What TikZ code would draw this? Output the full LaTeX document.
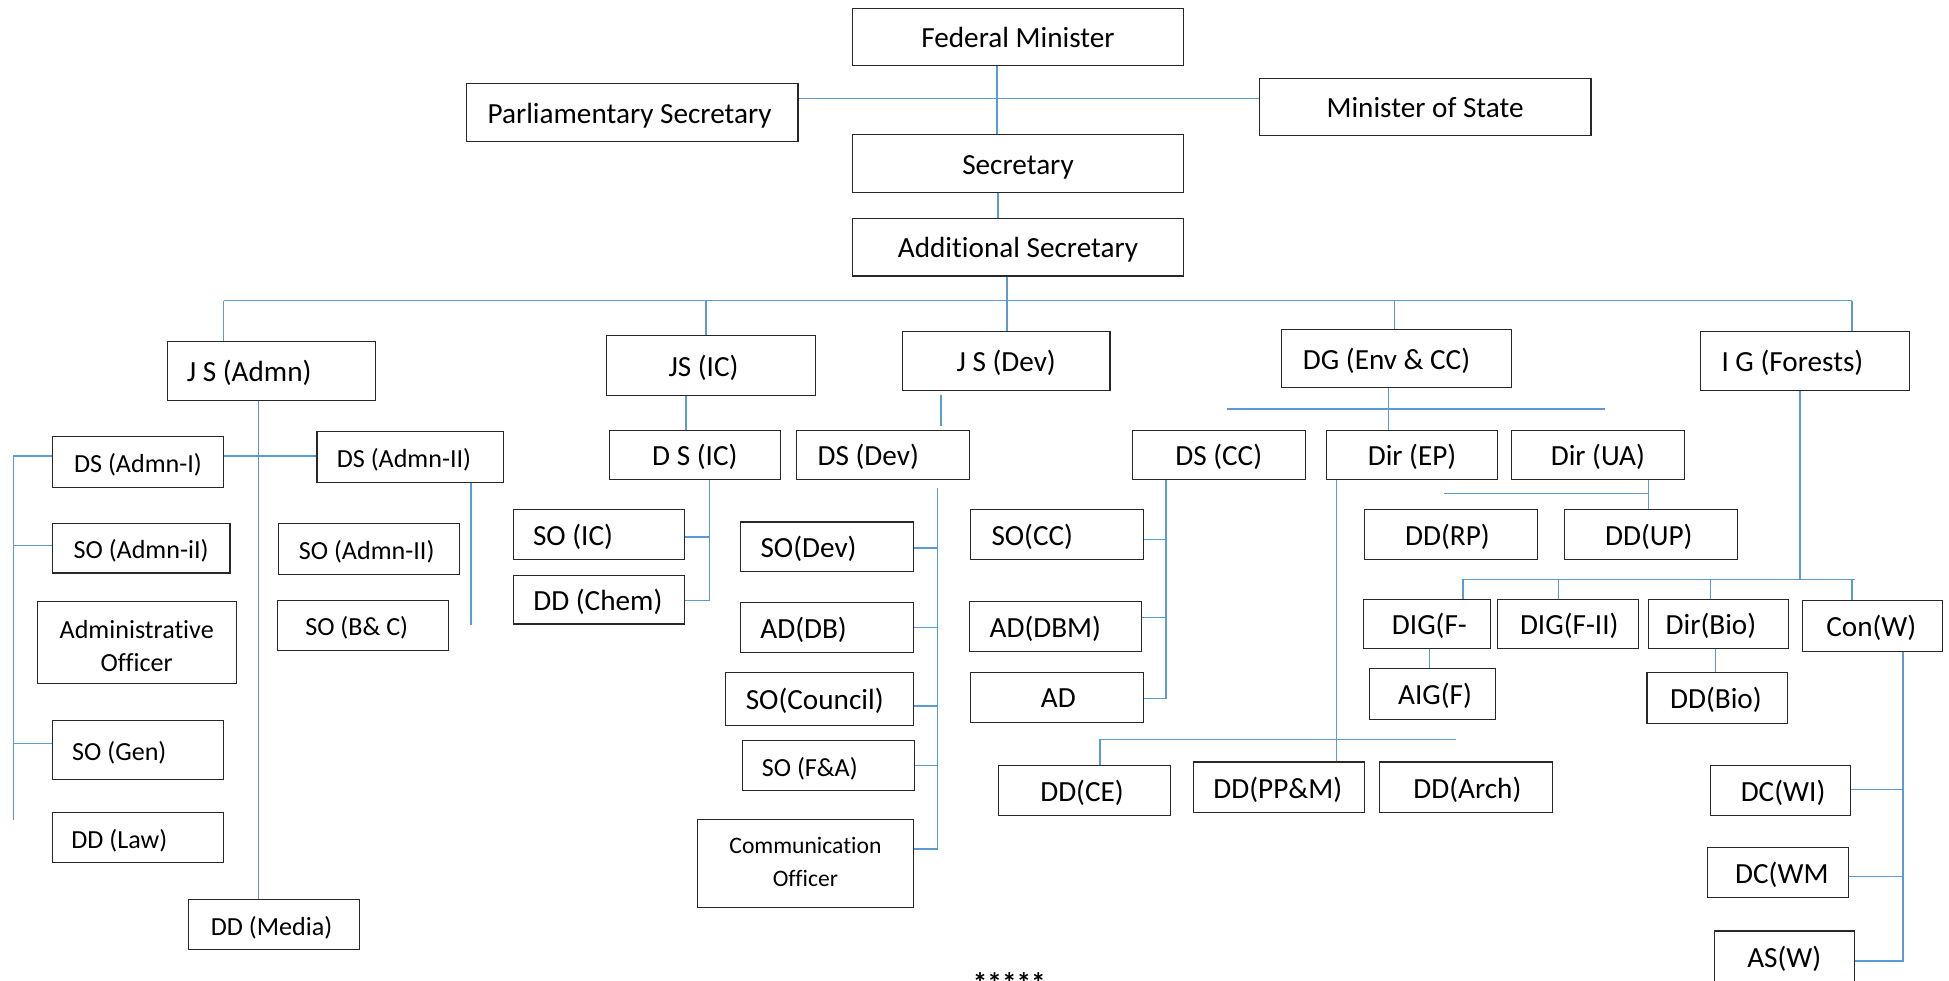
\documentclass[tikz,border=0pt]{standalone}
\usepackage{fontspec}
\setmainfont[Ligatures=NoCommon]{Carlito}
\definecolor{lnk}{RGB}{91,155,213}
\definecolor{bdr}{RGB}{40,40,40}
% \B[style]{name}{x1}{y1}{x2}{y2}{text shift}{text}
\newcommand\B[8][]{\node[box,#1,minimum width={#5pt-#3pt},minimum height={#6pt-#4pt}] (#2) at ({(#3+#5)/2},{(#4+#6)/2}) {\makebox[0pt]{\hspace*{#7pt}\hspace*{#7pt}\raisebox{-8.5pt}[0pt][0pt]{#8}}};}
\begin{document}
\begin{tikzpicture}[x=1pt,y=-1pt,
  box/.style={draw=bdr,line width=0.9pt,inner sep=0pt,font=\fontsize{23.5}{28}\selectfont},
  sm/.style={font=\fontsize{21}{26}\selectfont},
  conn/.style={draw=lnk,line width=1.1pt}]
\useasboundingbox (0,0) rectangle (1568,789);

% ---- top
\B{FM}{686}{7}{952}{53}{0}{Federal Minister}
\B{PS}{375}{67}{642}{114}{-2}{Parliamentary Secretary}
\B{MoS}{1013}{63}{1280}{109}{0}{Minister of State}
\B{Sec}{686}{108}{952}{155}{0}{Secretary}
\B{AS}{686}{176}{952}{222}{0}{Additional Secretary}
% ---- level 2
\B{JSA}{135}{275}{302}{322}{-18}{J S (Admn)}
\B{JSIC}{488}{270}{656}{318}{-6}{JS (IC)}
\B{JSD}{726}{267}{893}{314}{0}{J S (Dev)}
\B{DG}{1031}{265}{1216}{312}{-8}{DG (Env \& CC)}
\B{IG}{1368}{267}{1536}{314}{-10}{I G (Forests)}
% ---- admin
\B[sm]{DSA1}{42}{351}{180}{392}{0}{DS (Admn-I)}
\B[sm]{DSA2}{255}{347}{405}{388}{-5}{DS (Admn-II)}
\B[sm]{SOA}{42}{421}{185}{461}{0}{SO (Admn-iI)}
\B[sm]{AO}{30}{484}{190}{550}{0}{\raisebox{-1.5pt}{\begin{tabular}{@{}c@{}}Administrative\\Officer\end{tabular}}}
\B[sm]{SOG}{42}{580}{180}{627}{-15}{SO (Gen)}
\B[sm]{DDL}{42}{654}{180}{694}{-15}{DD (Law)}
\B[sm]{DDM}{152}{724}{289}{764}{-2}{DD (Media)}
\B[sm]{SOA2}{224}{421}{370}{462}{-2}{SO (Admn-II)}
\B[sm]{SOBC}{223}{483}{361}{523}{-5}{SO (B\& C)}
% ---- IC
\B{DSIC}{490}{346}{628}{386}{0}{D S (IC)}
\B{SOIC}{413}{410}{551}{450}{-21}{SO (IC)}
\B{DDC}{413}{463}{551}{502}{-1}{DD (Chem)}
% ---- Dev
\B{DSD}{641}{346}{780}{386}{-12}{DS (Dev)}
\B{SOD}{596}{420}{735}{460}{-15}{SO(Dev)}
\B{ADDB}{596}{485}{735}{525}{-19}{AD(DB)}
\B{SOCo}{584}{541}{735}{584}{-4}{SO(Council)}
\B[sm]{SOFA}{597}{596}{736}{636}{-15}{SO (F\&A)}
\B[font=\fontsize{19}{27}\selectfont]{Comm}{561}{659}{735}{730}{0}{\raisebox{4.2pt}{\begin{tabular}{@{}c@{}}Communication\\Officer\end{tabular}}}
% ---- CC
\B{DSCC}{911}{346}{1050}{386}{0}{DS (CC)}
\B{DirEP}{1067}{346}{1205}{386}{0}{Dir (EP)}
\B{DirUA}{1216}{346}{1355}{386}{0}{Dir (UA)}
\B{DDRP}{1098}{410}{1237}{450}{-3}{DD(RP)}
\B{DDUP}{1259}{410}{1398}{450}{-2}{DD(UP)}
\B{SOCC}{781}{410}{920}{450}{-20}{SO(CC)}
\B{ADDBM}{780}{484}{918}{524}{-8}{AD(DBM)}
\B{AD}{781}{541}{920}{581}{1}{AD}
\B{DDCE}{803}{616}{942}{656}{-2}{DD(CE)}
\B{DDPPM}{960}{613}{1098}{654}{-1}{DD(PP\&M)}
\B{DDAr}{1110}{613}{1249}{654}{1}{DD(Arch)}
% ---- Forests
\B{DIGa}{1097}{482}{1199}{522}{2}{DIG(F-}
\B{DIGb}{1205}{482}{1318}{522}{1}{DIG(F-II)}
\B{DirBio}{1326}{482}{1439}{522}{-6}{Dir(Bio)}
\B{ConW}{1450}{483}{1563}{524}{-1}{Con(W)}
\B{AIG}{1102}{538}{1203}{579}{2}{AIG(F)}
\B{DDBio}{1325}{541}{1438}{582}{-1}{DD(Bio)}
\B{DCWI}{1376}{616}{1489}{656}{2}{DC(WI)}
\B{DCWM}{1374}{682}{1487}{722}{3}{DC(WM}
\B{ASW}{1379}{749}{1492}{790}{0}{AS(W)}

\node[font=\fontsize{23.5}{28}\selectfont\bfseries,anchor=base,inner sep=0pt] (stars) at (812,799) {*****};

% ---- connectors: top
\draw[conn] ([xshift=-17pt]FM.south) -- ([xshift=-17pt]Sec.north);
\coordinate (t79) at (800,79);
\draw[conn] (PS.east |- t79) -- (MoS.west |- t79);
\draw[conn] ([xshift=-16pt]Sec.south) -- ([xshift=-16pt]AS.north);
% main bus
\coordinate (m1) at (180,242);
\coordinate (m2) at (568,242);
\coordinate (m3) at (810,242);
\coordinate (m4) at (1122,242);
\coordinate (m5) at (1490,242);
\draw[conn] (m1) -- (m5);
\draw[conn] (AS.south -| m3) -- (JSD.north -| m3);
\draw[conn] (m1) -- (JSA.north -| m1);
\draw[conn] (m2) -- (JSIC.north -| m2);
\draw[conn] (m4) -- (DG.north -| m4);
\draw[conn] (m5) -- (IG.north -| m5);
% admin
\coordinate (a1) at (208,0);
\draw[conn] (JSA.south -| a1) -- (DDM.north -| a1);
\coordinate (a2) at (0,367);
\draw[conn] (DSA1.east |- a2) -- (DSA2.west |- a2);
\coordinate (L1) at (11,367);
\coordinate (L2) at (11,660);
\coordinate (L3) at (11,439);
\coordinate (L4) at (11,598);
\draw[conn] (DSA1.west |- L1) -- (L1) -- (L2);
\draw[conn] (L3) -- (SOA.west |- L3);
\draw[conn] (L4) -- (SOG.west |- L4);
\coordinate (a3) at (379,503);
\draw[conn] (DSA2.south -| a3) -- (a3);
% IC
\coordinate (i0) at (552,0);
\draw[conn] (JSIC.south -| i0) -- (DSIC.north -| i0);
\coordinate (i1) at (571,432);
\coordinate (i2) at (571,483);
\draw[conn] (DSIC.south -| i2) -- (i2) -- (DDC.east |- i2);
\draw[conn] (SOIC.east |- i1) -- (i1);
% Dev
\coordinate (d0) at (757,0);
\draw[conn,shorten <=3pt,shorten >=3pt] (JSD.south -| d0) -- (DSD.north -| d0);
\coordinate (d1) at (754,441);
\coordinate (d2) at (754,505);
\coordinate (d3) at (754,568);
\coordinate (d4) at (754,616);
\coordinate (d5) at (754,683);
\draw[conn,shorten <=6pt] (DSD.south -| d5) -- (d5) -- (Comm.east |- d5);
\draw[conn] (SOD.east |- d1) -- (d1);
\draw[conn] (ADDB.east |- d2) -- (d2);
\draw[conn] (SOCo.east |- d3) -- (d3);
\draw[conn] (SOFA.east |- d4) -- (d4);
% CC
\coordinate (g0) at (1117,0);
\draw[conn] (DG.south -| g0) -- (DirEP.north -| g0);
\coordinate (g1) at (987,329);
\coordinate (g2) at (1291,329);
\draw[conn] (g1) -- (g2);
\coordinate (c1) at (938,434);
\coordinate (c2) at (938,497);
\coordinate (c3) at (938,562);
\draw[conn] (DSCC.south -| c3) -- (c3) -- (AD.east |- c3);
\draw[conn] (SOCC.east |- c1) -- (c1);
\draw[conn] (ADDBM.east |- c2) -- (c2);
\coordinate (u0) at (1162,397);
\coordinate (u1) at (1326,397);
\draw[conn] (DirUA.south -| u1) -- (DDUP.north -| u1);
\draw[conn] (u0) -- (u1);
\coordinate (e0) at (1075,0);
\draw[conn] (DirEP.south -| e0) -- (DDPPM.north -| e0);
\coordinate (e1) at (885,595);
\coordinate (e2) at (1171,595);
\draw[conn] (DDCE.north -| e1) -- (e1) -- (e2);
% Forests
\coordinate (f0) at (1448,466);
\coordinate (f1) at (1177,466);
\coordinate (f2) at (1254,466);
\coordinate (f3) at (1376,466);
\coordinate (f4) at (1490,466);
\coordinate (f5) at (1492,466);
\draw[conn] (IG.south -| f0) -- (f0);
\draw[conn] (f1) -- (f5);
\draw[conn] (f1) -- (DIGa.north -| f1);
\draw[conn] (f2) -- (DIGb.north -| f2);
\draw[conn] (f3) -- (DirBio.north -| f3);
\draw[conn] (f4) -- (ConW.north -| f4);
\coordinate (f6) at (1150,0);
\draw[conn] (DIGa.south -| f6) -- (AIG.north -| f6);
\coordinate (f7) at (1380,0);
\draw[conn] (DirBio.south -| f7) -- (DDBio.north -| f7);
\coordinate (w1) at (1531,635);
\coordinate (w2) at (1531,705);
\coordinate (w3) at (1531,773);
\draw[conn] (ConW.south -| w3) -- (w3) -- (ASW.east |- w3);
\draw[conn] (DCWI.east |- w1) -- (w1);
\draw[conn] (DCWM.east |- w2) -- (w2);
\end{tikzpicture}
\end{document}
